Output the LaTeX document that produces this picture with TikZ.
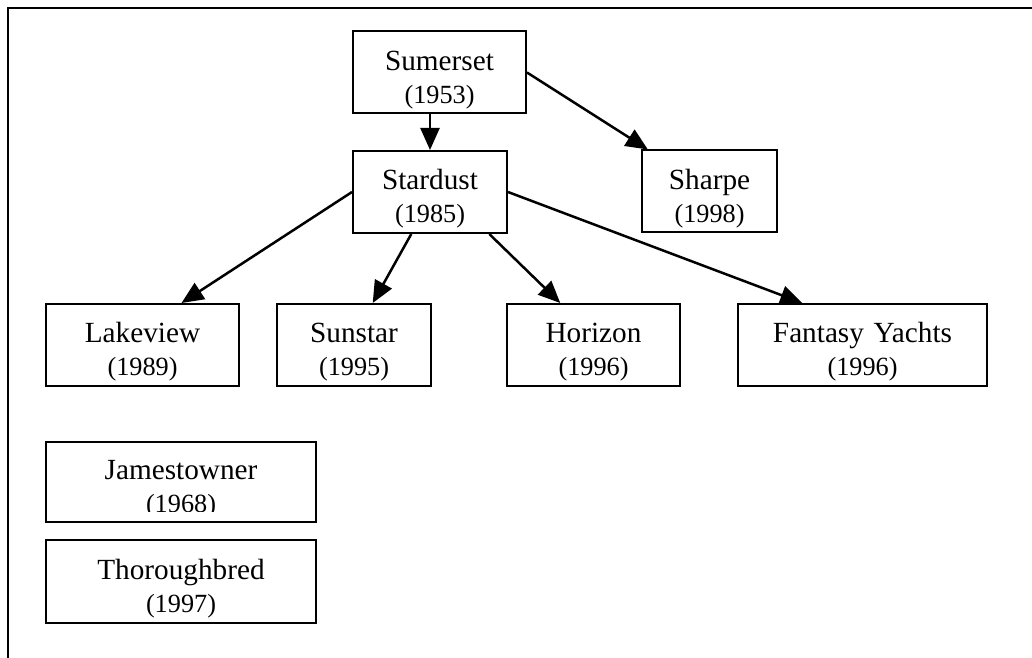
\documentclass[tikz,border=0pt]{standalone}
\usepackage{fontspec}
\setmainfont{Liberation Serif}
\usetikzlibrary{positioning,arrows.meta,calc}
\newcommand{\yr}[1]{{\fontsize{10.5}{12}\selectfont #1}}
\newcommand{\firm}[2]{\rule{0pt}{13.5pt}#1\\\yr{(#2)}}
\begin{document}
\begin{tikzpicture}[
  x=0.4pt, y=-0.4pt,
  box/.style={rectangle, draw, line width=0.8pt, inner sep=0pt, minimum height=32.8pt, align=center, font=\fontsize{11.7}{13.2}\selectfont},
  bw/.style={minimum width=#1*0.4pt, text width=#1*0.4pt},
  arr/.style={-{Triangle[length=8.8pt,width=7.6pt]}, line width=1pt},
  frame/.style={line width=1.1pt}
]
\useasboundingbox (0,0) rectangle (1032,658);
\coordinate (fl) at (8,658);
\coordinate (fc) at (8,8);
\coordinate (fr) at (1032,8);
\draw[frame] (fl) -- (fc) -- (fr);

\node[box, bw=173] (sumerset) at (439.5,72.5)  {\firm{Sumerset}{1953}};
\node[box, bw=154] (stardust) at (430,192)     {\firm{Stardust}{1985}};
\node[box, bw=135] (sharpe)   at (709.5,191.5) {\firm{Sharpe}{1998}};
\node[box, bw=193] (lakeview) at (142.5,345)   {\firm{Lakeview}{1989}};
\node[box, bw=154] (sunstar)  at (354,345)     {\firm{Sunstar}{1995}};
\node[box, bw=173] (horizon)  at (593.5,345)   {\firm{Horizon}{1996}};
\node[box, bw=249] (fantasy)  at (862.5,345)   {\firm{Fantasy Yachts}{1996}};

\node[box, bw=270, minimum height=32pt] (jamBox) at (181,482) {};
\begin{scope}
  \clip (jamBox.north west) rectangle ($(jamBox.south east)+(0,-12)$);
  \node[box, draw=none, bw=270, minimum height=32pt] (jam) at (jamBox.center) {\firm{Jamestowner}{1968}};
\end{scope}
\node[box, bw=270, minimum height=33.2pt] (thorough) at (181,581.5) {\firm{Thoroughbred}{1997}};

\draw[arr] (stardust.north |- sumerset.south) -- (stardust.north);
\draw[arr] (sumerset.east) -- ($(sharpe.north west)!0.05!(sharpe.north east)$);
\draw[arr] (stardust.west) -- ($(lakeview.north west)!0.70!(lakeview.north east)$);
\draw[arr] ($(stardust.south west)!0.38!(stardust.south east)$) -- ($(sunstar.north west)!0.62!(sunstar.north east)$);
\draw[arr] ($(stardust.south west)!0.88!(stardust.south east)$) -- ($(horizon.north west)!0.31!(horizon.north east)$);
\draw[arr] (stardust.east) -- ($(fantasy.north west)!0.26!(fantasy.north east)$);
\end{tikzpicture}
\end{document}
